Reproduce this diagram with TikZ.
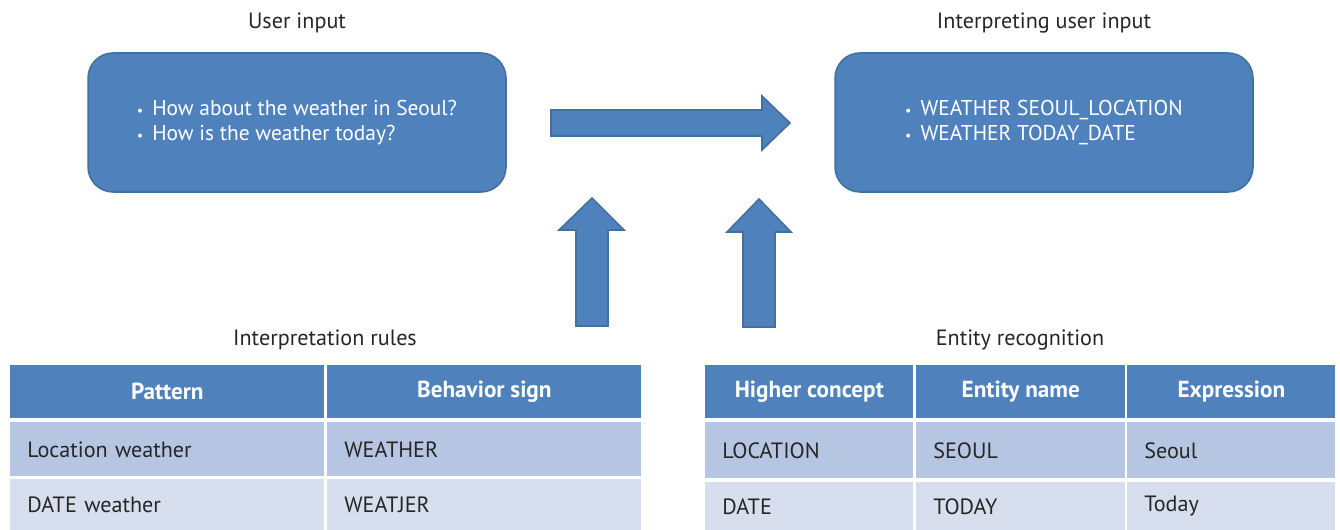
\documentclass[tikz,border=0pt]{standalone}
\usepackage{fontspec}
\setmainfont{PT Sans}
\usepackage{tikz}
\usetikzlibrary{positioning}

\definecolor{officeblue}{HTML}{4F81BD}
\definecolor{officeedge}{HTML}{41719C}
\definecolor{rowdark}{HTML}{B5C5E2}
\definecolor{rowlight}{HTML}{D7DFEF}
\definecolor{inktext}{HTML}{262626}

\newcommand{\blt}{{\footnotesize\textbullet}\hspace{0.18cm}}

\tikzset{
    bigbox/.style = {draw=officeedge, fill=officeblue, line width=0.9pt, rounded corners=0.5cm,
        minimum width=8.36cm, minimum height=2.78cm, text=white, align=left,
        font=\fontsize{12.2}{14.7}\selectfont},
    title/.style = {text=inktext, font=\fontsize{12.6}{14}\selectfont},
    blockarrow/.style = {draw=officeedge, fill=officeblue, line width=0.9pt},
    hdr/.style = {fill=officeblue, text=white, anchor=north west, inner sep=0pt, align=center,
        font=\fontsize{13.2}{15}\selectfont\bfseries},
    cell/.style = {anchor=north west, inner xsep=0.34cm, inner ysep=0pt, align=left,
        text=inktext, font=\fontsize{12.6}{14}\selectfont},
}

\begin{document}
\begin{tikzpicture}[x=0.02cm, y=-0.02cm]
        \useasboundingbox (0,0) rectangle (1340,530);

        % top row: question and its interpretation
        \node[bigbox] (user) at (297,122.5) {\blt How about the weather in Seoul?\\\blt How is the weather today?};
        \node[bigbox] (interp) at (1044,122.5) {\blt WEATHER SEOUL\_LOCATION\\\blt WEATHER TODAY\_DATE};
        \node[title] (usertitle) at (297,23) {User input};
        \node[title] (interptitle) at (1044,23) {Interpreting user input};

        % block arrows
        \draw[blockarrow] (551,110) -- (762,110) -- (762,96) -- (790,123) -- (762,150) -- (762,136) -- (551,136) -- cycle;
        \draw[blockarrow] (576,326) -- (576,230) -- (559,230) -- (592,198) -- (624,230) -- (608,230) -- (608,326) -- cycle;
        \draw[blockarrow] (743,327) -- (743,232) -- (727,232) -- (759,199) -- (791,232) -- (775,232) -- (775,327) -- cycle;

        % interpretation rules
        \node[title] (rulestitle) at (325,340) {Interpretation rules};
        \node[hdr, minimum width=6.28cm, minimum height=1.06cm] (pat) at (10,365) {Pattern};
        \node[hdr, minimum width=6.28cm, minimum height=1.06cm] (sign) at (327,365) {Behavior sign};
        \node[cell, fill=rowdark, text width=5.6cm, minimum height=1.08cm] (pat1) at (10,422) {Location weather};
        \node[cell, fill=rowdark, text width=5.6cm, minimum height=1.08cm] (sign1) at (327,422) {WEATHER};
        \node[cell, fill=rowlight, text width=5.6cm, minimum height=1.02cm] (pat2) at (10,479) {DATE weather};
        \node[cell, fill=rowlight, text width=5.6cm, minimum height=1.02cm] (sign2) at (327,479) {WEATJER};

        % entity recognition
        \node[title] (enttitle) at (1020,340) {Entity recognition};
        \node[hdr, minimum width=4.16cm, minimum height=1.06cm] (hc) at (705,365) {Higher concept};
        \node[hdr, minimum width=4.18cm, minimum height=1.06cm] (en) at (916,365) {Entity name};
        \node[hdr, minimum width=4.16cm, minimum height=1.06cm] (ex) at (1127,365) {Expression};
        \node[cell, fill=rowdark, text width=3.48cm, minimum height=1.12cm] (hc1) at (705,422) {LOCATION};
        \node[cell, fill=rowdark, text width=3.50cm, minimum height=1.12cm] (en1) at (916,422) {SEOUL};
        \node[cell, fill=rowdark, text width=3.48cm, minimum height=1.12cm] (ex1) at (1127,422) {Seoul};
        \node[cell, fill=rowlight, text width=3.48cm, minimum height=0.96cm] (hc2) at (705,482) {DATE};
        \node[cell, fill=rowlight, text width=3.50cm, minimum height=0.96cm] (en2) at (916,482) {TODAY};
        \node[cell, fill=rowlight, text width=3.48cm, minimum height=0.96cm] (ex2) at (1127,482) {Today};
    \end{tikzpicture}
\end{document}
